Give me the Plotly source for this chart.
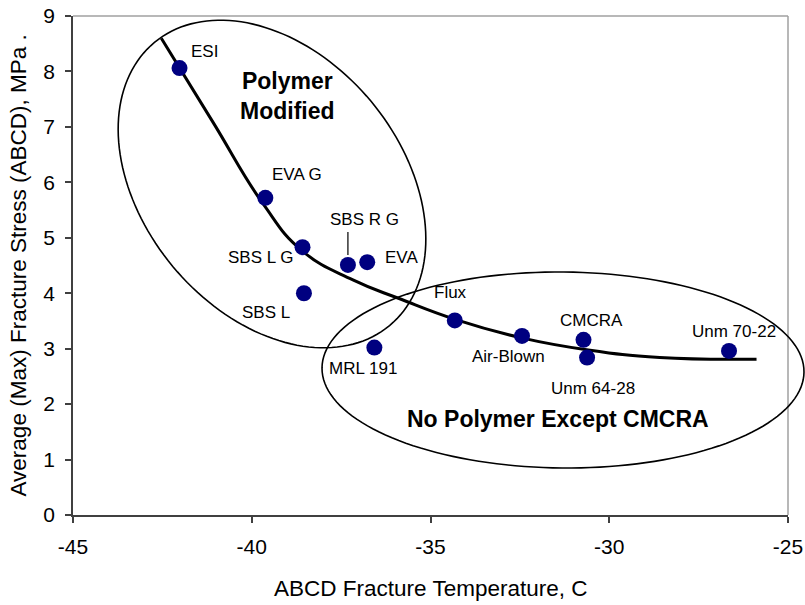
import numpy as np
import plotly.graph_objects as go

# ---- data -------------------------------------------------------------
binders = ["ESI", "EVA G", "SBS L G", "SBS R G", "EVA", "SBS L", "MRL 191",
           "Flux", "Air-Blown", "CMCRA", "Unm 64-28", "Unm 70-22"]
fracture_temp = [-42.02, -39.62, -38.58, -37.31, -36.77, -38.54, -36.57,
                 -34.32, -32.44, -30.72, -30.62, -26.65]
fracture_stress = [8.06, 5.72, 4.83, 4.51, 4.56, 4.00, 3.02,
                   3.51, 3.23, 3.16, 2.84, 2.96]

# trend curve through the binder set
trend_temp = [-42.53, -41.09, -39.69, -38.60, -37.17, -35.86,
              -34.27, -32.42, -30.63, -28.59, -25.88]
trend_stress = [8.60, 7.09, 5.62, 4.77, 4.24, 3.90,
                3.52, 3.19, 2.98, 2.84, 2.81]

x_ticks = [-45, -40, -35, -30, -25]
x_tick_labels = ["-45", "-40", "-35", "-30", "-25"]
y_ticks = [0, 1, 2, 3, 4, 5, 6, 7, 8, 9]

# label offsets from each marker (pixels: right, up)
label_shift = {
    "ESI": (25, 17), "EVA G": (32, 23), "SBS L G": (-42, -10),
    "SBS R G": (17, 45), "EVA": (34, 5), "SBS L": (-38, -19),
    "MRL 191": (-11, -21), "Flux": (-4, 28), "Air-Blown": (-14, -21),
    "CMCRA": (8, 19), "Unm 64-28": (6, -31), "Unm 70-22": (5, 19),
}

# ---- layout geometry --------------------------------------------------
W, H = 805, 605
PL, PR, PT, PB = 73, 788, 16, 515   # plot area in pixels
FONT = "Arial, Liberation Sans, sans-serif"


def paper_x(px):
    return (px - PL) / (PR - PL)


def paper_y(py):
    return (PB - py) / (PB - PT)


def ellipse_path(cx, cy, a, b, angle_deg, n=160):
    th = np.radians(angle_deg)
    t = np.linspace(0, 2 * np.pi, n, endpoint=False)
    xs = cx + a * np.cos(t) * np.cos(th) - b * np.sin(t) * np.sin(th)
    ys = cy + a * np.cos(t) * np.sin(th) + b * np.sin(t) * np.cos(th)
    pts = [f"{paper_x(x):.5f},{paper_y(y):.5f}" for x, y in zip(xs, ys)]
    return "M " + " L ".join(pts) + " Z"


fig = go.Figure()
fig.add_trace(go.Scatter(x=trend_temp, y=trend_stress, mode="lines",
                         line=dict(color="black", width=3, shape="spline",
                                   smoothing=1.3),
                         hoverinfo="skip", showlegend=False))
fig.add_trace(go.Scatter(x=fracture_temp, y=fracture_stress, mode="markers",
                         marker=dict(color="#000080", size=16),
                         text=binders, showlegend=False))

annotations = []
for name, xv, yv in zip(binders, fracture_temp, fracture_stress):
    dx, dy = label_shift[name]
    annotations.append(dict(x=xv, y=yv, xref="x", yref="y", text=name,
                            showarrow=False, xshift=dx, yshift=dy,
                            xanchor="center", yanchor="middle",
                            font=dict(family=FONT, size=17, color="black")))

# group captions
annotations.append(dict(x=paper_x(287), y=paper_y(96), xref="paper", yref="paper",
                        text="<b>Polymer</b><br><b>Modified</b>", showarrow=False,
                        align="center", xanchor="center", yanchor="middle",
                        font=dict(family=FONT, size=23, color="black")))
annotations.append(dict(x=paper_x(558), y=paper_y(419), xref="paper", yref="paper",
                        text="<b>No Polymer Except CMCRA</b>", showarrow=False,
                        xanchor="center", yanchor="middle",
                        font=dict(family=FONT, size=23, color="black")))

# axis titles
annotations.append(dict(x=0.5, y=paper_y(588), xref="paper", yref="paper",
                        text="ABCD Fracture Temperature, C", showarrow=False,
                        xanchor="center", yanchor="middle",
                        font=dict(family=FONT, size=22.5, color="black")))
annotations.append(dict(x=paper_x(18), y=0.5, xref="paper", yref="paper",
                        text="Average (Max) Fracture Stress (ABCD), MPa .",
                        textangle=-90, showarrow=False,
                        xanchor="center", yanchor="middle",
                        font=dict(family=FONT, size=22.5, color="black")))

sbs_rg = binders.index("SBS R G")
shapes = [
    # group outlines
    dict(type="path", xref="paper", yref="paper",
         path=ellipse_path(272, 184, 184, 129, 50.3),
         line=dict(color="black", width=1.6), layer="above"),
    dict(type="path", xref="paper", yref="paper",
         path=ellipse_path(563, 370, 241, 98, 0.5),
         line=dict(color="black", width=1.6), layer="above"),
    # leader line for SBS R G
    dict(type="line", xref="x", yref="y", ysizemode="pixel",
         yanchor=fracture_stress[sbs_rg],
         x0=fracture_temp[sbs_rg], x1=fracture_temp[sbs_rg], y0=10, y1=33,
         line=dict(color="black", width=1.2)),
    # top and right frame
    dict(type="line", xref="paper", yref="paper", x0=0, x1=1, y0=1, y1=1,
         line=dict(color="#A0A0A0", width=1.5), layer="below"),
    dict(type="line", xref="paper", yref="paper", x0=1, x1=1, y0=0, y1=1,
         line=dict(color="#A0A0A0", width=1.5), layer="below"),
]

fig.update_layout(
    width=W, height=H,
    margin=dict(l=PL, r=W - PR, t=PT, b=H - PB, autoexpand=False),
    plot_bgcolor="white", paper_bgcolor="white",
    showlegend=False,
    annotations=annotations,
    shapes=shapes,
    font=dict(family=FONT, color="black"),
)
fig.update_xaxes(range=[-45, -25], tickvals=x_ticks, ticktext=x_tick_labels,
                 showgrid=False, zeroline=False, automargin=False,
                 showline=True, linecolor="#404040", linewidth=1.5,
                 ticks="outside", ticklen=6, tickcolor="#404040", tickwidth=1.5,
                 tickfont=dict(family=FONT, size=21, color="black"),
                 ticklabeloverflow="allow", ticklabelstandoff=6)
fig.update_yaxes(range=[0, 9], tickvals=y_ticks, showgrid=False,
                 zeroline=False, automargin=False,
                 showline=True, linecolor="#404040", linewidth=1.5,
                 ticks="outside", ticklen=6, tickcolor="#404040", tickwidth=1.5,
                 tickfont=dict(family=FONT, size=21, color="black"),
                 ticklabelstandoff=6)

fig.write_html("out.html")
